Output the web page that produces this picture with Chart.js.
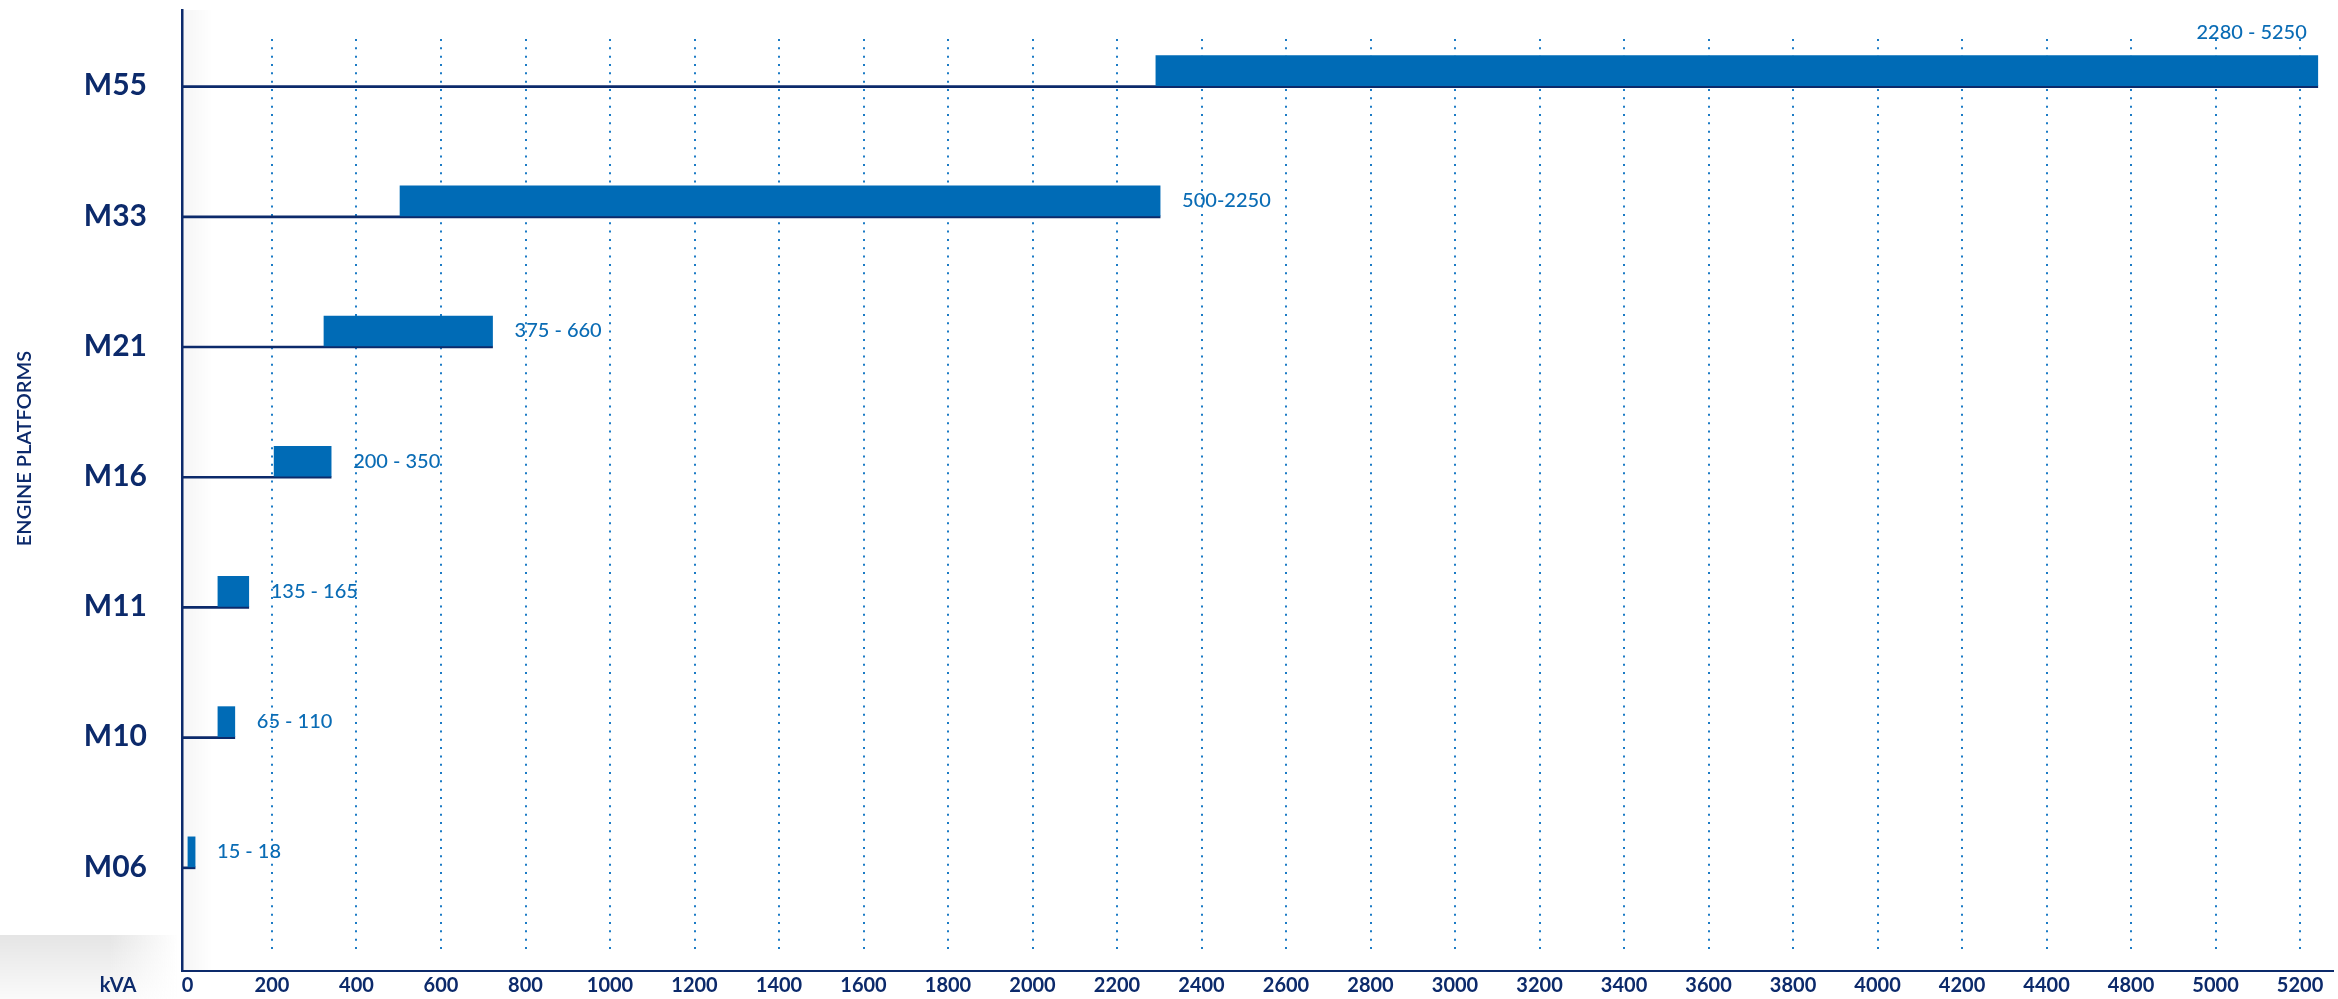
<!DOCTYPE html>
<html lang="en">
<head>
<meta charset="UTF-8">
<title>Engine platforms - kVA ranges</title>
<script src="https://cdn.jsdelivr.net/npm/chart.js"></script>
<style>
  body { margin: 0; background: #fff; }
  canvas { display: block; }
</style>
</head>
<body>
<canvas id="platformChart" width="2338" height="999"></canvas>
<script>
// engine platforms, top to bottom
const platforms = ['M55', 'M33', 'M21', 'M16', 'M11', 'M10', 'M06'];
// where each bar starts / ends on the kVA axis
const barStart = [2292, 503, 323, 205, 72, 72, 1];
const barEnd = [5042, 2302, 722, 340, 145, 112, 18];
// range text printed next to each bar
const rangeLabels = ['2280 - 5250', '500-2250', '375 - 660', '200 - 350', '135 - 165', '65 - 110', '15 - 18'];
// x tick labels as printed, one every 200 on the axis
const tickLabels = ['0', '200', '400', '600', '800', '1000', '1200', '1400', '1600', '1800',
  '2000', '2200', '2400', '2600', '2800', '3000', '3200', '3400', '3600', '3800',
  '4000', '4200', '4400', '4800', '5000', '5200'];
const tickStep = 200;

const xMin = -13, xMax = 5078;
const navy = '#0c2a6b';
const blue = '#006bb6';
const labelBlue = '#0a6cb5';
const dotBlue = '#1b7bc5';

const decorations = {
  id: 'decorations',
  beforeDraw(chart) {
    const { ctx, chartArea } = chart;
    ctx.save();
    // grey strip bottom left
    let g = ctx.createLinearGradient(0, 935, 0, 999);
    g.addColorStop(0, 'rgba(0,0,0,0.10)');
    g.addColorStop(1, 'rgba(0,0,0,0.02)');
    ctx.fillStyle = g;
    ctx.fillRect(0, 935, chartArea.left - 4, 64);
    g = ctx.createLinearGradient(110, 0, chartArea.left - 4, 0);
    g.addColorStop(0, 'rgba(255,255,255,0)');
    g.addColorStop(1, 'rgba(255,255,255,1)');
    ctx.fillStyle = g;
    ctx.fillRect(110, 935, chartArea.left - 114, 64);
    // faint shadow right of the y axis
    g = ctx.createLinearGradient(chartArea.left, 0, chartArea.left + 30, 0);
    g.addColorStop(0, 'rgba(0,0,0,0.04)');
    g.addColorStop(1, 'rgba(0,0,0,0)');
    ctx.fillStyle = g;
    ctx.fillRect(chartArea.left, chartArea.top, 30, chartArea.bottom - chartArea.top);
    ctx.restore();
  },
  beforeDatasetsDraw(chart) {
    // dotted grid, a bit shorter than the plot area
    const { ctx, chartArea, scales } = chart;
    ctx.save();
    ctx.strokeStyle = dotBlue;
    ctx.lineWidth = 2;
    ctx.setLineDash([2, 6.33]);
    scales.x.ticks.forEach(t => {
      if (t.value <= 0) return;
      const x = Math.round(scales.x.getPixelForValue(t.value));
      ctx.beginPath();
      ctx.moveTo(x, chartArea.top + 29);
      ctx.lineTo(x, chartArea.bottom - 20);
      ctx.stroke();
    });
    ctx.restore();
  },
  afterDatasetsDraw(chart) {
    const { ctx, chartArea } = chart;
    ctx.save();
    ctx.font = '500 20px Lato';
    ctx.fillStyle = labelBlue;
    ctx.textBaseline = 'middle';
    chart.getDatasetMeta(0).data.forEach((bar, i) => {
      const text = rangeLabels[i];
      const w = ctx.measureText(text).width;
      if (bar.x + 22 + w > chartArea.right) {
        ctx.textAlign = 'right';
        ctx.fillText(text, bar.x - 11, bar.y - 38);
      } else {
        ctx.textAlign = 'left';
        ctx.fillText(text, bar.x + 22, bar.y);
      }
    });
    ctx.restore();
  },
  afterDraw(chart) {
    const { ctx, chartArea } = chart;
    ctx.save();
    ctx.fillStyle = navy;
    ctx.textAlign = 'center';
    ctx.textBaseline = 'middle';
    ctx.font = 'bold 20px Lato';
    ctx.fillText('kVA', 118, chartArea.bottom + 15);
    ctx.translate(25, (chartArea.top + chartArea.bottom) / 2 - 42);
    ctx.rotate(-Math.PI / 2);
    ctx.font = '600 20px Lato';
    ctx.fillText('ENGINE PLATFORMS', 0, 0);
    ctx.restore();
  }
};

const ctx = document.getElementById('platformChart').getContext('2d');
new Chart(ctx, {
  type: 'bar',
  data: {
    datasets: [{
      // the range bar, sits above the platform line
      data: platforms.map((p, i) => ({ x: [barStart[i], barEnd[i]], y: i })),
      backgroundColor: blue,
      borderWidth: 0,
      barThickness: 30
    }, {
      // thin navy line from the axis to the end of the bar
      data: platforms.map((p, i) => ({ x: [xMin, barEnd[i]], y: i })),
      backgroundColor: navy,
      borderWidth: 0,
      barThickness: 2
    }]
  },
  options: {
    indexAxis: 'y',
    responsive: false,
    animation: false,
    layout: { padding: { top: 10, right: 5 } },
    plugins: {
      legend: { display: false },
      tooltip: { enabled: false }
    },
    scales: {
      x: {
        type: 'linear',
        min: xMin,
        max: xMax,
        afterBuildTicks: axis => { axis.ticks = tickLabels.map((t, i) => ({ value: i * tickStep })); },
        afterFit: axis => {
          axis.height = 28;
          axis.paddingLeft = 0;
          axis.paddingRight = 0;
        },
        grid: { display: false, drawTicks: false },
        border: { color: navy, width: 2 },
        ticks: {
          autoSkip: false,
          maxRotation: 0,
          padding: 3,
          color: navy,
          font: { family: 'Lato', size: 20, weight: 'bold' },
          callback: (v, i) => tickLabels[i]
        }
      },
      y: {
        type: 'linear',
        reverse: true,
        offset: false,
        min: -0.581,
        max: 6.80,
        afterBuildTicks: axis => { axis.ticks = platforms.map((p, i) => ({ value: i })); },
        afterFit: axis => {
          axis.width = 182;
          axis.paddingTop = 0;
          axis.paddingBottom = 0;
        },
        grid: { display: false, drawTicks: false, offset: false },
        border: { color: navy, width: 2.5 },
        ticks: {
          padding: 35,
          color: navy,
          font: { family: 'Lato', size: 30, weight: 'bold' },
          callback: (v, i) => platforms[i]
        }
      }
    }
  },
  plugins: [decorations]
});
</script>
</body>
</html>
